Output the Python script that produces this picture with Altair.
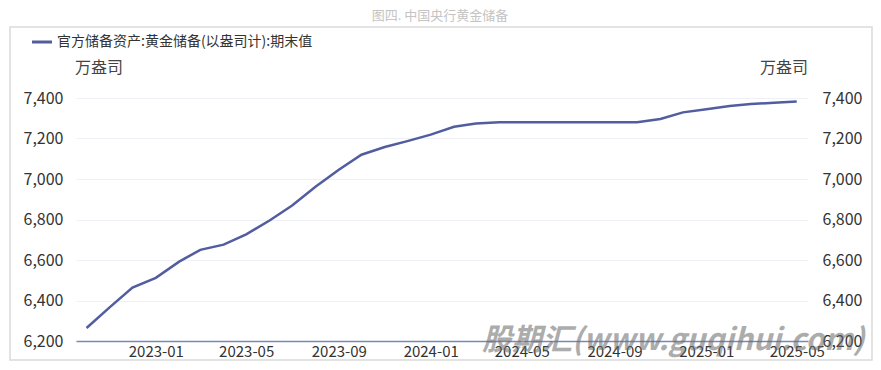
import altair as alt
import pandas as pd

# ---- data ----
months = [
    "2022-10-01", "2022-11-01", "2022-12-01",
    "2023-01-01", "2023-02-01", "2023-03-01", "2023-04-01", "2023-05-01", "2023-06-01",
    "2023-07-01", "2023-08-01", "2023-09-01", "2023-10-01", "2023-11-01", "2023-12-01",
    "2024-01-01", "2024-02-01", "2024-03-01", "2024-04-01", "2024-05-01", "2024-06-01",
    "2024-07-01", "2024-08-01", "2024-09-01", "2024-10-01", "2024-11-01", "2024-12-01",
    "2025-01-01", "2025-02-01", "2025-03-01", "2025-04-01", "2025-05-01",
]
gold = [
    6264, 6367, 6464,
    6512, 6592, 6650, 6676, 6727, 6795,
    6869, 6962, 7046, 7120, 7158, 7187,
    7219, 7258, 7274, 7280, 7280, 7280,
    7280, 7280, 7280, 7280, 7296, 7329,
    7345, 7361, 7370, 7377, 7383,
]
tick_months = [(2023, 1), (2023, 5), (2023, 9), (2024, 1), (2024, 5), (2024, 9), (2025, 1), (2025, 5)]
y_ticks = [6200, 6400, 6600, 6800, 7000, 7200, 7400]

title_text = "图四. 中国央行黄金储备"
series_name = "官方储备资产:黄金储备(以盎司计):期末值"
unit_text = "万盎司"
watermark = "股期汇(www.guqihui.com)"

FONT = "Noto Sans CJK SC"
LINE_COLOR = "#525d9f"

df = pd.DataFrame({"date": months, "value": gold})
one = pd.DataFrame({"a": [0]})

x_scale = alt.Scale(
    type="utc",
    domain=[alt.DateTime(year=2022, month=9, date=17, utc=True),
            alt.DateTime(year=2025, month=5, date=16, utc=True)],
)
x_axis = alt.Axis(
    values=[alt.DateTime(year=y, month=m, date=1, utc=True) for y, m in tick_months],
    labelExpr="utcFormat(datum.value, '%Y-%m')", title=None, grid=False, ticks=False,
    domainColor="#7d86bb", domainWidth=1.5,
    labelFont=FONT, labelFontSize=15, labelColor="#333333", labelPadding=3,
    labelAngle=0,
)

y_scale = alt.Scale(domain=[6200, 7400], nice=False, zero=False)

line = alt.Chart(df).mark_line(color=LINE_COLOR, strokeWidth=2.5).encode(
    x=alt.X("date:T", scale=x_scale, axis=x_axis),
    y=alt.Y("value:Q", scale=y_scale, axis=alt.Axis(
        orient="left", values=y_ticks, format=",.0f", title=None, ticks=False,
        domain=False, grid=True, gridColor="#eef0f6", gridWidth=1,
        labelFont=FONT, labelFontSize=16, labelColor="#333333", labelPadding=13,
    )),
)

right = alt.Chart(df).mark_line(opacity=0).encode(
    x=alt.X("date:T", scale=x_scale, axis=x_axis),
    y=alt.Y("value:Q", scale=y_scale, axis=alt.Axis(
        orient="right", values=y_ticks, format=",.0f", title=None, ticks=False,
        domain=False, grid=False,
        labelFont=FONT, labelFontSize=16, labelColor="#333333", labelPadding=14,
    )),
)

border = alt.Chart(one).mark_rect(fill="white", fillOpacity=0, stroke="#dadada", strokeWidth=1.5).encode(
    x=alt.value(-66), x2=alt.value(796), y=alt.value(-71), y2=alt.value(262)
)

title = alt.Chart(one).mark_text(text=title_text, font=FONT, fontSize=13, color="#c4c4c4",
                                 align="center", baseline="middle").encode(
    x=alt.value(364), y=alt.value(-82)
)

legend_line = alt.Chart(one).mark_rule(color=LINE_COLOR, strokeWidth=3).encode(
    x=alt.value(-44), x2=alt.value(-24), y=alt.value(-56)
)
legend_text = alt.Chart(one).mark_text(text=series_name, font=FONT, fontSize=14, color="#333333",
                                       align="left", baseline="middle").encode(
    x=alt.value(-19), y=alt.value(-56)
)

unit_left = alt.Chart(one).mark_text(text=unit_text, font=FONT, fontSize=16, color="#444444",
                                     align="left", baseline="middle").encode(
    x=alt.value(-1), y=alt.value(-30)
)
unit_right = alt.Chart(one).mark_text(text=unit_text, font=FONT, fontSize=16, color="#444444",
                                      align="right", baseline="middle").encode(
    x=alt.value(732), y=alt.value(-30)
)

wm = alt.Chart(one).mark_text(text=watermark, font=FONT, fontSize=30, fontWeight="bold",
                              fontStyle="italic", color="#6a6a6a", opacity=0.55,
                              align="left", baseline="middle").encode(
    x=alt.value(406), y=alt.value(243)
)

chart = alt.layer(
    border, line, right, title, legend_line, legend_text, unit_left, unit_right, wm
).resolve_axis(y="independent").properties(
    width=732, height=243,
    autosize=alt.AutoSizeParams(type="none"),
    padding={"left": 68, "top": 90, "right": 65, "bottom": 20},
).configure_view(stroke=None)

chart.save("out.html", embed_options={"renderer": "svg", "actions": False})
